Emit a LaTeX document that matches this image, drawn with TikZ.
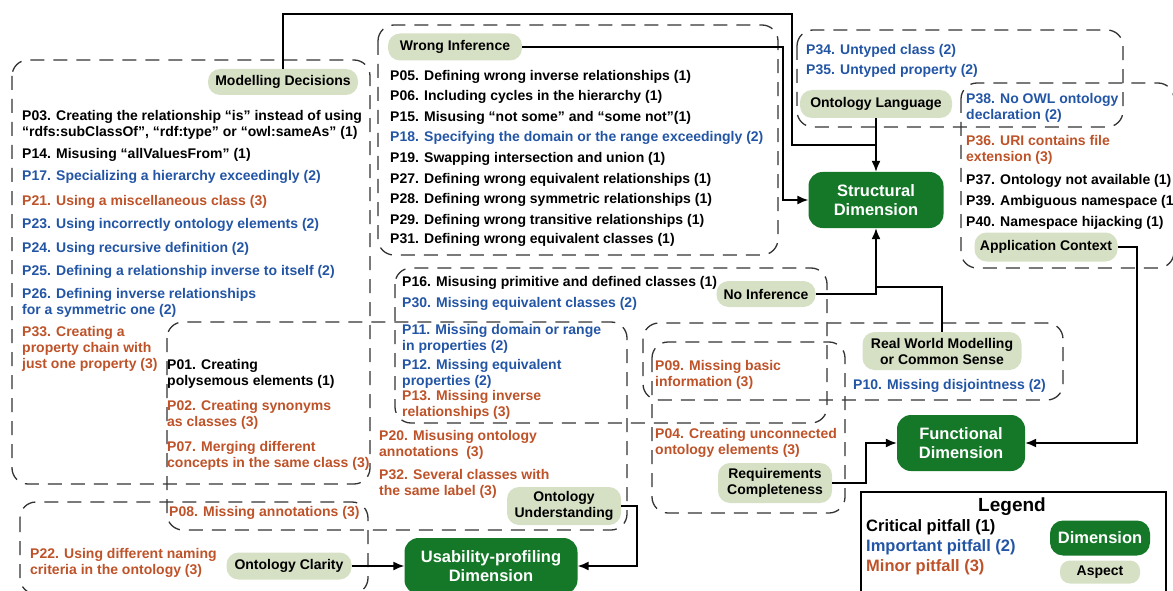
\documentclass[tikz,border=0pt]{standalone}
\usepackage{fontspec}
\setmainfont{Liberation Sans}
\usepackage{xcolor}
\usetikzlibrary{arrows.meta}
\definecolor{dimgreen}{RGB}{20,120,40}
\definecolor{aspectfill}{RGB}{214,224,196}
\definecolor{impblue}{RGB}{35,85,165}
\definecolor{minorange}{RGB}{190,82,40}

\begin{document}
\begin{tikzpicture}[
    x=1pt, y=-1pt,
    pitfall/.style={anchor=west, inner sep=0pt, align=left, text=black, font=\fontsize{14}{16}\selectfont\bfseries},
    important/.style={pitfall, text=impblue},
    minor/.style={pitfall, text=minorange},
    aspect/.style={rectangle, rounded corners=12pt, fill=aspectfill, inner sep=2pt, align=center, font=\fontsize{14}{16}\selectfont\bfseries},
    dimension/.style={rectangle, rounded corners=14pt, fill=dimgreen, text=white, align=center, font=\fontsize{16.5}{19}\selectfont\bfseries},
    group/.style={draw=black!80, line width=1.3pt, dash pattern=on 14pt off 9pt, rounded corners=16pt},
    line/.style={draw, line width=1.5pt},
    arrow/.style={line, -{Latex[length=11pt,width=9pt]}}
]
\useasboundingbox (0,0) rectangle (1173,591);

\draw[group] (12,60) rectangle (370,484);
\draw[group] (378,25) rectangle (778,255);
\draw[group] (797,30) rectangle (1123,127);
\draw[group] (961,83) rectangle (1174,268);
\draw[group] (395,268) rectangle (827,423);
\draw[group] (167,322) rectangle (627,530);
\draw[group] (643,323) rectangle (1063,400);
\draw[group] (652,342) rectangle (845,513);
\draw[group] (20,502) rectangle (368,594);

\node[aspect, minimum width=150pt, minimum height=26pt] (modelling) at (283,82) {Modelling Decisions};
\node[aspect, minimum width=134pt, minimum height=27pt] (wronginf) at (455,47) {Wrong Inference};
\node[aspect, minimum width=152pt, minimum height=28pt] (ontlang) at (876,104) {Ontology Language};
\node[aspect, minimum width=143pt, minimum height=29pt] (appctx) at (1046,247) {Application Context};
\node[aspect, minimum width=99pt, minimum height=26pt] (noinf) at (766,294) {No Inference};
\node[aspect, minimum width=159pt, minimum height=38pt] (realworld) at (942,351) {Real World Modelling\\or Common Sense};
\node[aspect, minimum width=114pt, minimum height=40pt] (reqcomp) at (775,483) {Requirements\\Completeness};
\node[aspect, minimum width=114pt, minimum height=38pt] (ontund) at (564,506) {Ontology\\Understanding};
\node[aspect, minimum width=125pt, minimum height=27pt] (ontclar) at (289,566) {Ontology Clarity};

\node[dimension, minimum width=135pt, minimum height=56pt] (structural) at (876,200) {Structural\\Dimension};
\node[dimension, minimum width=128pt, minimum height=56pt] (functional) at (961,443) {Functional\\Dimension};
\node[dimension, minimum width=173pt, minimum height=56pt] (usability) at (491,566) {Usability-profiling\\Dimension};

\node[pitfall] (p03) at (22,125) {P03. Creating the relationship “is” instead of using\\“rdfs:subClassOf”, “rdf:type” or “owl:sameAs” (1)};
\node[pitfall] (p14) at (22,155) {P14. Misusing “allValuesFrom” (1)};
\node[important] (p17) at (22,177) {P17. Specializing a hierarchy exceedingly (2)};
\node[minor] (p21) at (22,202) {P21. Using a miscellaneous class (3)};
\node[important] (p23) at (22,225) {P23. Using incorrectly ontology elements (2)};
\node[important] (p24) at (22,249) {P24. Using recursive definition (2)};
\node[important] (p25) at (22,272) {P25. Defining a relationship inverse to itself (2)};
\node[important] (p26) at (22,303) {P26. Defining inverse relationships\\for a symmetric one (2)};
\node[minor] (p33) at (22,349) {P33. Creating a\\property chain with\\just one property (3)};
\node[pitfall] (p01) at (167,374) {P01. Creating\\polysemous elements (1)};
\node[minor] (p02) at (167,415) {P02. Creating synonyms\\as classes (3)};
\node[minor] (p07) at (167,456) {P07. Merging different\\concepts in the same class (3)};
\node[minor] (p08) at (169,513) {P08. Missing annotations (3)};
\node[minor] (p22) at (30,563) {P22. Using different naming\\criteria in the ontology (3)};

\node[pitfall] (p05) at (390,77) {P05. Defining wrong inverse relationships (1)};
\node[pitfall] (p06) at (390,97) {P06. Including cycles in the hierarchy (1)};
\node[pitfall] (p15) at (390,118) {P15. Misusing “not some” and “some not”(1)};
\node[important] (p18) at (390,138) {P18. Specifying the domain or the range exceedingly (2)};
\node[pitfall] (p19) at (390,159) {P19. Swapping intersection and union (1)};
\node[pitfall] (p27) at (390,180) {P27. Defining wrong equivalent relationships (1)};
\node[pitfall] (p28) at (390,200) {P28. Defining wrong symmetric relationships (1)};
\node[pitfall] (p29) at (390,221) {P29. Defining wrong transitive relationships (1)};
\node[pitfall] (p31) at (390,240) {P31. Defining wrong equivalent classes (1)};

\node[pitfall] (p16) at (402,283) {P16. Misusing primitive and defined classes (1)};
\node[important] (p30) at (402,304) {P30. Missing equivalent classes (2)};
\node[important] (p11) at (402,339) {P11. Missing domain or range\\in properties (2)};
\node[important] (p12) at (402,374) {P12. Missing equivalent\\properties (2)};
\node[minor] (p13) at (402,405) {P13. Missing inverse\\relationships (3)};
\node[minor] (p20) at (379,445) {P20. Misusing ontology\\annotations\ \ (3)};
\node[minor] (p32) at (379,484) {P32. Several classes with\\the same label (3)};

\node[minor] (p09) at (655,375) {P09. Missing basic\\information (3)};
\node[minor] (p04) at (655,443) {P04. Creating unconnected\\ontology elements (3)};
\node[important] (p10) at (853,386) {P10. Missing disjointness (2)};

\node[important] (p34) at (806,51) {P34. Untyped class (2)};
\node[important] (p35) at (806,71) {P35. Untyped property (2)};
\node[important] (p38) at (966,108) {P38. No OWL ontology\\declaration (2)};
\node[minor] (p36) at (966,150) {P36. URI contains file\\extension (3)};
\node[pitfall] (p37) at (966,181) {P37. Ontology not available (1)};
\node[pitfall] (p39) at (966,202) {P39. Ambiguous namespace (1)};
\node[pitfall] (p40) at (966,223) {P40. Namespace hijacking (1)};

\draw[line width=1.2pt] (861,492) rectangle (1166,600);
\node[font=\fontsize{19}{22}\selectfont\bfseries] (legend) at (1012,507) {Legend};
\node[anchor=west, inner sep=0pt, font=\fontsize{16.5}{20}\selectfont\bfseries] (lcritical) at (866,527) {Critical pitfall (1)};
\node[anchor=west, inner sep=0pt, text=impblue, font=\fontsize{16.5}{20}\selectfont\bfseries] (limportant) at (866,547) {Important pitfall (2)};
\node[anchor=west, inner sep=0pt, text=minorange, font=\fontsize{16.5}{20}\selectfont\bfseries] (lminor) at (866,567) {Minor pitfall (3)};
\node[dimension, minimum width=100pt, minimum height=35pt, rounded corners=13pt] (ldimension) at (1100,538) {Dimension};
\node[aspect, minimum width=80pt, minimum height=23pt, rounded corners=10pt] (laspect) at (1100,572) {Aspect};

\coordinate (mdturn) at (792,14);
\coordinate (sjoin) at (876,145);
\coordinate (witurn) at (783,200);
\coordinate (rwjoin) at (876,287);
\coordinate (acturn) at (1137,443);
\coordinate (rcturn) at (866,443);
\coordinate (outurn) at (637,566);

\draw[line] (modelling.north) |- (mdturn) |- (sjoin);
\draw[arrow] (ontlang) -- (structural);
\draw[arrow] (wronginf) -| (witurn) -- (structural);
\draw[arrow] (noinf) -| (structural);
\draw[line] (realworld) |- (rwjoin);
\draw[arrow] (appctx) -| (acturn) -- (functional);
\draw[arrow] (reqcomp) -| (rcturn) -- (functional);
\draw[arrow] (ontund) -| (outurn) -- (usability);
\draw[arrow] (ontclar) -- (usability);

\end{tikzpicture}
\end{document}
